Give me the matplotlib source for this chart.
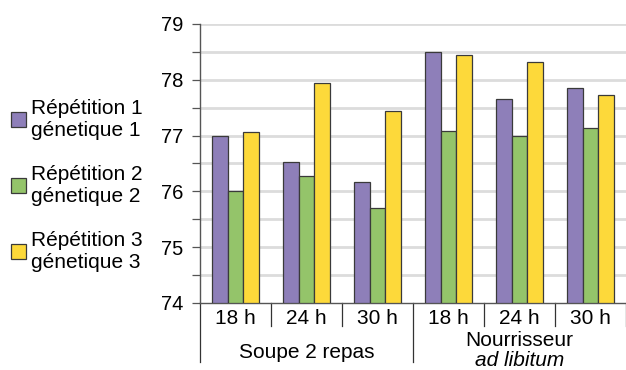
import matplotlib
matplotlib.use('Agg')

import numpy as np
import matplotlib.pyplot as plt
from matplotlib.transforms import blended_transform_factory
from matplotlib.lines import Line2D

plt.rcParams['font.family'] = ['Liberation Sans', 'DejaVu Sans']

# DATA
hours = ["18 h", "24 h", "30 h", "18 h", "24 h", "30 h"]
series_labels = ["Répétition 1\ngénetique 1",
                 "Répétition 2\ngénetique 2",
                 "Répétition 3\ngénetique 3"]
rep1 = [77.0, 76.52, 76.16, 78.50, 77.66, 77.85]
rep2 = [76.01, 76.27, 75.71, 77.08, 77.00, 77.13]
rep3 = [77.07, 77.94, 77.44, 78.45, 78.32, 77.73]

COLOURS = ["#8e7fb9", "#94c46a", "#fdd93a"]
EDGE = "#3a3a3a"
FS = 15

W, H = 626, 370
fig = plt.figure(figsize=(W / 100, H / 100), dpi=100)
ax_left, ax_right, ax_top, ax_bottom = 200, 626, 24, 303
ax = fig.add_axes([ax_left / W, 1 - ax_bottom / H,
                   (ax_right - ax_left) / W, (ax_bottom - ax_top) / H])

x = np.arange(len(hours))
bw = 0.22
bars = []
for k, vals in enumerate([rep1, rep2, rep3]):
    b = ax.bar(x + (k - 1) * bw, np.array(vals) - 74, bw, bottom=74,
               color=COLOURS[k], edgecolor=EDGE, linewidth=0.9,
               label=series_labels[k], zorder=3)
    bars.append(b)

ax.set_xlim(-0.5, len(hours) - 0.5)
ax.set_ylim(74, 79)
ax.set_yticks(np.arange(74, 79.01, 1))
ax.set_yticks(np.arange(74.5, 79, 1), minor=True)
ax.set_xticks([])
ax.tick_params(axis='y', which='both', direction='out', length=6,
               width=0.9, color="#555555", labelsize=14.5, pad=6)

for yv in np.arange(74.5, 79.01, 0.5):
    ax.axhline(yv, color="#dcdcdc", linewidth=2, zorder=1)

for s in ["top", "right"]:
    ax.spines[s].set_visible(False)
ax.spines["left"].set_color("#555555")
ax.spines["bottom"].set_color("#555555")
ax.spines["left"].set_linewidth(1)
ax.spines["bottom"].set_linewidth(1)

# category axis below the plot
ph = 1.0 / (ax_bottom - ax_top)  # one pixel in axes fraction
tr = blended_transform_factory(ax.transData, ax.transAxes)
for i, lab in enumerate(hours):
    ax.text(x[i], -15 * ph, lab, transform=tr, ha='center', va='center',
            fontsize=FS)
for b in np.arange(-0.5, len(hours), 1.0):
    long = b in (-0.5, 2.5)
    y1 = -59 * ph if long else -23 * ph
    ax.add_line(Line2D([b, b], [0, y1], transform=tr, color="#333333",
                       linewidth=0.9, clip_on=False))

ax.text(1, -50 * ph, "Soupe 2 repas", transform=tr, ha='center',
        va='center', fontsize=FS)
ax.text(4, -37 * ph, "Nourrisseur", transform=tr, ha='center',
        va='center', fontsize=FS)
ax.text(4, -58 * ph, "ad libitum", transform=tr, ha='center',
        va='center', fontsize=FS, style='italic')

fig.legend(handles=bars, labels=series_labels, loc='center left',
           bbox_to_anchor=(11 / W, 1 - 185 / H), frameon=False,
           fontsize=FS, handlelength=0.7, handleheight=0.7,
           handletextpad=0.25, labelspacing=1.2, borderpad=0,
           borderaxespad=0)

plt.savefig("out.png", dpi=100)
plt.close()
